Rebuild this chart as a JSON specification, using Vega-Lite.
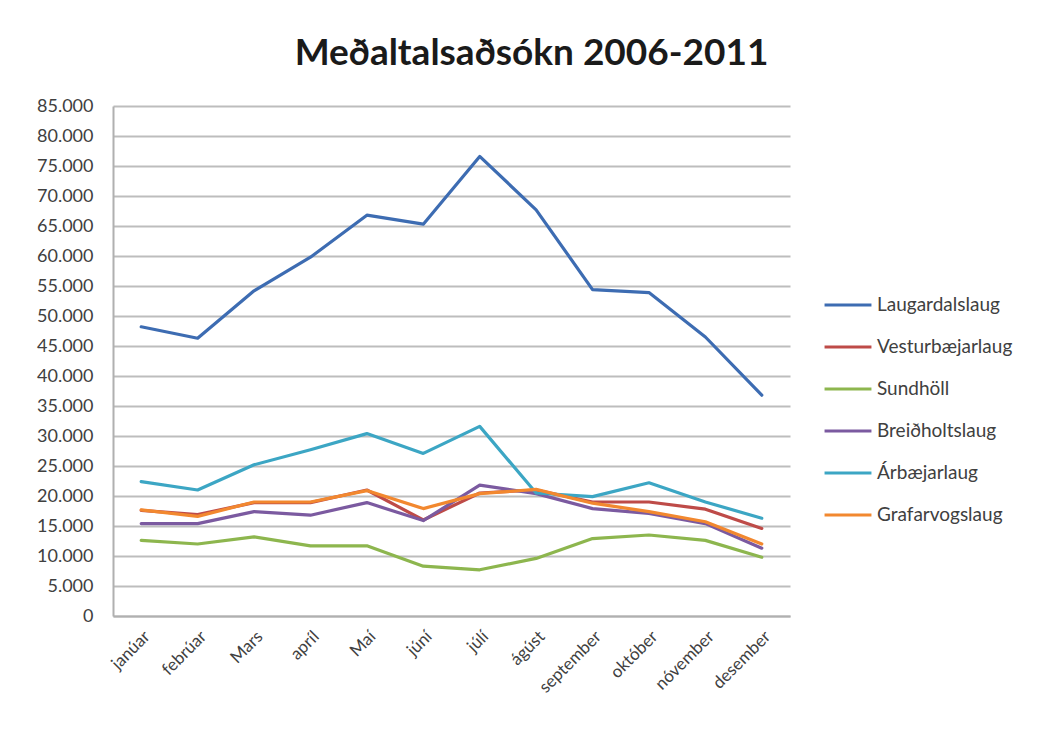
{
  "$schema": "https://vega.github.io/schema/vega-lite/v6.json",
  "width": 677,
  "height": 510,
  "autosize": {"type": "none"},
  "padding": {"left": 113, "top": 106, "right": 256, "bottom": 117},
  "background": "white",
  "title": {
    "text": "Meðaltalsaðsókn 2006-2011",
    "font": "Lato",
    "fontSize": 37,
    "fontWeight": "bold",
    "color": "#1a1a1a",
    "anchor": "middle",
    "dx": 80,
    "offset": 24
  },
  "config": {
    "view": {"stroke": null},
    "font": "Lato"
  },
  "data": {
    "values": [
      {"month": "janúar", "pool": "Laugardalslaug", "value": 48200},
      {"month": "febrúar", "pool": "Laugardalslaug", "value": 46300},
      {"month": "Mars", "pool": "Laugardalslaug", "value": 54200},
      {"month": "apríl", "pool": "Laugardalslaug", "value": 59800},
      {"month": "Maí", "pool": "Laugardalslaug", "value": 66800},
      {"month": "júní", "pool": "Laugardalslaug", "value": 65300},
      {"month": "júlí", "pool": "Laugardalslaug", "value": 76600},
      {"month": "ágúst", "pool": "Laugardalslaug", "value": 67700},
      {"month": "september", "pool": "Laugardalslaug", "value": 54400},
      {"month": "október", "pool": "Laugardalslaug", "value": 53900},
      {"month": "nóvember", "pool": "Laugardalslaug", "value": 46500},
      {"month": "desember", "pool": "Laugardalslaug", "value": 36800},
      {"month": "janúar", "pool": "Vesturbæjarlaug", "value": 17600},
      {"month": "febrúar", "pool": "Vesturbæjarlaug", "value": 16900},
      {"month": "Mars", "pool": "Vesturbæjarlaug", "value": 18900},
      {"month": "apríl", "pool": "Vesturbæjarlaug", "value": 18900},
      {"month": "Maí", "pool": "Vesturbæjarlaug", "value": 21000},
      {"month": "júní", "pool": "Vesturbæjarlaug", "value": 16000},
      {"month": "júlí", "pool": "Vesturbæjarlaug", "value": 20500},
      {"month": "ágúst", "pool": "Vesturbæjarlaug", "value": 21000},
      {"month": "september", "pool": "Vesturbæjarlaug", "value": 19000},
      {"month": "október", "pool": "Vesturbæjarlaug", "value": 19000},
      {"month": "nóvember", "pool": "Vesturbæjarlaug", "value": 17800},
      {"month": "desember", "pool": "Vesturbæjarlaug", "value": 14600},
      {"month": "janúar", "pool": "Sundhöll", "value": 12600},
      {"month": "febrúar", "pool": "Sundhöll", "value": 12000},
      {"month": "Mars", "pool": "Sundhöll", "value": 13200},
      {"month": "apríl", "pool": "Sundhöll", "value": 11700},
      {"month": "Maí", "pool": "Sundhöll", "value": 11700},
      {"month": "júní", "pool": "Sundhöll", "value": 8300},
      {"month": "júlí", "pool": "Sundhöll", "value": 7700},
      {"month": "ágúst", "pool": "Sundhöll", "value": 9600},
      {"month": "september", "pool": "Sundhöll", "value": 12900},
      {"month": "október", "pool": "Sundhöll", "value": 13500},
      {"month": "nóvember", "pool": "Sundhöll", "value": 12600},
      {"month": "desember", "pool": "Sundhöll", "value": 9800},
      {"month": "janúar", "pool": "Breiðholtslaug", "value": 15400},
      {"month": "febrúar", "pool": "Breiðholtslaug", "value": 15400},
      {"month": "Mars", "pool": "Breiðholtslaug", "value": 17400},
      {"month": "apríl", "pool": "Breiðholtslaug", "value": 16800},
      {"month": "Maí", "pool": "Breiðholtslaug", "value": 18900},
      {"month": "júní", "pool": "Breiðholtslaug", "value": 15900},
      {"month": "júlí", "pool": "Breiðholtslaug", "value": 21800},
      {"month": "ágúst", "pool": "Breiðholtslaug", "value": 20400},
      {"month": "september", "pool": "Breiðholtslaug", "value": 17900},
      {"month": "október", "pool": "Breiðholtslaug", "value": 17100},
      {"month": "nóvember", "pool": "Breiðholtslaug", "value": 15400},
      {"month": "desember", "pool": "Breiðholtslaug", "value": 11300},
      {"month": "janúar", "pool": "Árbæjarlaug", "value": 22400},
      {"month": "febrúar", "pool": "Árbæjarlaug", "value": 21000},
      {"month": "Mars", "pool": "Árbæjarlaug", "value": 25200},
      {"month": "apríl", "pool": "Árbæjarlaug", "value": 27700},
      {"month": "Maí", "pool": "Árbæjarlaug", "value": 30400},
      {"month": "júní", "pool": "Árbæjarlaug", "value": 27100},
      {"month": "júlí", "pool": "Árbæjarlaug", "value": 31600},
      {"month": "ágúst", "pool": "Árbæjarlaug", "value": 20500},
      {"month": "september", "pool": "Árbæjarlaug", "value": 19900},
      {"month": "október", "pool": "Árbæjarlaug", "value": 22200},
      {"month": "nóvember", "pool": "Árbæjarlaug", "value": 19000},
      {"month": "desember", "pool": "Árbæjarlaug", "value": 16300},
      {"month": "janúar", "pool": "Grafarvogslaug", "value": 17700},
      {"month": "febrúar", "pool": "Grafarvogslaug", "value": 16600},
      {"month": "Mars", "pool": "Grafarvogslaug", "value": 19000},
      {"month": "apríl", "pool": "Grafarvogslaug", "value": 19000},
      {"month": "Maí", "pool": "Grafarvogslaug", "value": 20900},
      {"month": "júní", "pool": "Grafarvogslaug", "value": 17900},
      {"month": "júlí", "pool": "Grafarvogslaug", "value": 20400},
      {"month": "ágúst", "pool": "Grafarvogslaug", "value": 21100},
      {"month": "september", "pool": "Grafarvogslaug", "value": 18800},
      {"month": "október", "pool": "Grafarvogslaug", "value": 17400},
      {"month": "nóvember", "pool": "Grafarvogslaug", "value": 15700},
      {"month": "desember", "pool": "Grafarvogslaug", "value": 12000}
    ]
  },
  "mark": {"type": "line", "strokeWidth": 3.2, "strokeJoin": "round", "strokeCap": "round"},
  "encoding": {
    "x": {
      "field": "month",
      "type": "ordinal",
      "sort": ["janúar", "febrúar", "Mars", "apríl", "Maí", "júní", "júlí", "ágúst", "september", "október", "nóvember", "desember"],
      "scale": {"padding": 0.5},
      "axis": {
        "title": null,
        "labelAngle": -45,
        "labelFont": "Lato",
        "labelFontSize": 17,
        "labelColor": "#404040",
        "labelPadding": 12,
        "ticks": false,
        "domainColor": "#b0b0b0",
        "domainWidth": 2,
        "grid": false
      }
    },
    "y": {
      "field": "value",
      "type": "quantitative",
      "scale": {"domain": [0, 85000], "nice": false},
      "axis": {
        "title": null,
        "values": [0, 5000, 10000, 15000, 20000, 25000, 30000, 35000, 40000, 45000, 50000, 55000, 60000, 65000, 70000, 75000, 80000, 85000],
        "labelExpr": "replace(format(datum.value, ','), ',', '.')",
        "labelFont": "Lato",
        "labelFontSize": 18,
        "labelColor": "#404040",
        "labelPadding": 20,
        "ticks": false,
        "domainColor": "#b0b0b0",
        "domainWidth": 2,
        "gridColor": "#bdbdbd",
        "gridWidth": 2
      }
    },
    "color": {
      "field": "pool",
      "type": "nominal",
      "sort": ["Laugardalslaug", "Vesturbæjarlaug", "Sundhöll", "Breiðholtslaug", "Árbæjarlaug", "Grafarvogslaug"],
      "scale": {
        "domain": ["Laugardalslaug", "Vesturbæjarlaug", "Sundhöll", "Breiðholtslaug", "Árbæjarlaug", "Grafarvogslaug"],
        "range": ["#3d6cb2", "#be4b48", "#8db64e", "#7b5aa0", "#3ca6c4", "#f2882f"]
      },
      "legend": {
        "title": null,
        "orient": "none",
        "legendX": 710,
        "legendY": 174,
        "symbolType": "stroke",
        "symbolSize": 2200,
        "symbolStrokeWidth": 3,
        "labelFont": "Lato",
        "labelFontSize": 19,
        "labelColor": "#404040",
        "labelOffset": 4,
        "rowPadding": 7
      }
    }
  }
}
